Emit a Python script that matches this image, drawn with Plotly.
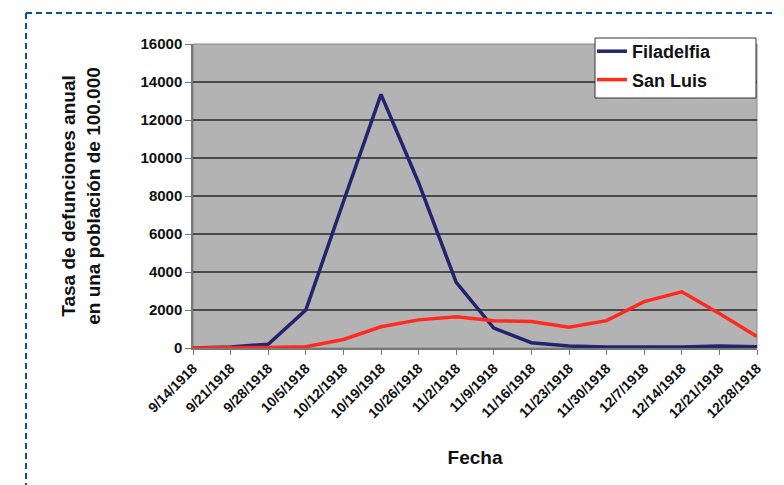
import plotly.graph_objects as go

fechas = ["9/14/1918", "9/21/1918", "9/28/1918", "10/5/1918", "10/12/1918",
          "10/19/1918", "10/26/1918", "11/2/1918", "11/9/1918", "11/16/1918",
          "11/23/1918", "11/30/1918", "12/7/1918", "12/14/1918", "12/21/1918",
          "12/28/1918"]
filadelfia = [0, 50, 200, 2000, 7700, 13350, 8700, 3450, 1050, 280,
              100, 50, 50, 50, 100, 60]
san_luis = [0, 0, 30, 70, 450, 1120, 1480, 1650, 1440, 1390,
            1090, 1440, 2440, 2960, 1820, 600]
y_ticks = [0, 2000, 4000, 6000, 8000, 10000, 12000, 14000, 16000]

FONT = "Liberation Sans, Arial, sans-serif"

fig = go.Figure()
fig.add_trace(go.Scatter(x=list(range(len(fechas))), y=filadelfia, mode="lines",
                         name="<b>Filadelfia</b>", legendgroup="a",
                         line=dict(color="#23236e", width=3.5)))
fig.add_trace(go.Scatter(x=list(range(len(fechas))), y=san_luis, mode="lines",
                         name="<b>San Luis</b>", legendgroup="b",
                         line=dict(color="#ff2a1f", width=3.5)))

# page offset of the figure inside the browser window (body margin)
OFF = 8
W, H = 784, 485
# target plot area in screenshot pixels: x 193..757, y 44..348
L = 193 - OFF
T = 44 - OFF
R = W - (757 - OFF)
B = H - (348 - OFF)
pw, ph = W - L - R, H - T - B

def px(x):
    return (x - OFF - L) / pw

def py(y):
    return (H - B - (y - OFF)) / ph

border = dict(color="#0a4f9e", width=2, dash="6px,4px")
fig.add_shape(type="line", xref="paper", yref="paper",
              x0=px(26), x1=px(800), y0=py(13), y1=py(13), line=border)
fig.add_shape(type="line", xref="paper", yref="paper",
              x0=px(26), x1=px(26), y0=py(13), y1=py(500), line=border)
# legend box
fig.add_shape(type="rect", xref="paper", yref="paper",
              x0=px(595), x1=px(756), y0=py(38), y1=py(98),
              fillcolor="white", line=dict(color="#333333", width=1), layer="above")

fig.update_layout(
    width=W, height=H,
    margin=dict(l=L, r=R, t=T, b=B, autoexpand=False),
    paper_bgcolor="white",
    plot_bgcolor="#b3b3b3",
    font=dict(family=FONT, color="#111111"),
    showlegend=True,
    legend=dict(x=px(592), y=py(33), xanchor="left", yanchor="top",
                bgcolor="rgba(0,0,0,0)", borderwidth=0,
                font=dict(size=18, family=FONT, color="#111111"),
                tracegroupgap=2, itemwidth=30),
    xaxis=dict(
        tickmode="array", tickvals=list(range(len(fechas))), ticktext=["<b>%s</b>" % f for f in fechas],
        range=[0, len(fechas) - 1], tickangle=-45,
        tickfont=dict(size=14, family=FONT, color="#111111"),
        showgrid=False, zeroline=False, automargin=False,
        showline=True, linecolor="#777777", linewidth=1.5,
        ticks="outside", ticklen=5, tickcolor="#777777",
        title=dict(text="<b>Fecha</b>", font=dict(size=19, family=FONT, color="#111111"), standoff=31),
    ),
    yaxis=dict(
        range=[0, 16000], tickvals=y_ticks, ticktext=["<b>%d</b>" % v for v in y_ticks],
        tickfont=dict(size=15, family=FONT, color="#111111"),
        showgrid=True, gridcolor="#4a4a4a", gridwidth=1.5,
        zeroline=False, automargin=False,
        showline=True, linecolor="#777777", linewidth=1.5,
        ticks="outside", ticklen=6, tickcolor="#777777",
        title=dict(text="<b>Tasa de defunciones anual<br>en una población de 100.000</b>",
                   font=dict(size=19, family=FONT, color="#111111"), standoff=35),
    ),
)
fig.add_shape(type="rect", xref="paper", yref="paper", x0=0, x1=1, y0=0, y1=1,
              line=dict(color="#8a8a8a", width=1), layer="below")

fig.write_html("out.html")
